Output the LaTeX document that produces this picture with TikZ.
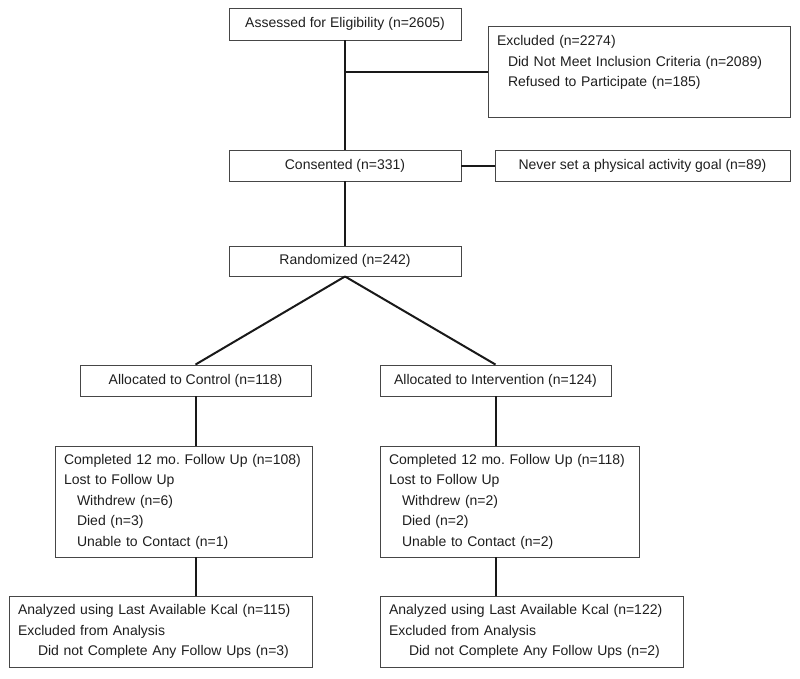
\documentclass[tikz,border=0pt]{standalone}
\usepackage{fontspec}
\setmainfont{Liberation Sans}
\usepackage{tikz}
\usetikzlibrary{positioning}
\definecolor{cfgray}{RGB}{70,70,70}
\definecolor{cftext}{RGB}{30,30,30}
\tikzstyle{box} = [rectangle, draw=cfgray, line width=0.9pt, minimum height=31pt, inner sep=0pt, text centered, text=cftext]
\tikzstyle{listbox} = [box, align=left, inner xsep=8pt]
\tikzstyle{link} = [line width=2pt, color=black!90]
\newcommand{\ind}[1]{\hspace*{#1pt}}
\frenchspacing

\begin{document}
\begin{tikzpicture}[x=1pt, y=-1pt, font=\fontsize{14}{20.5}\selectfont]
\useasboundingbox (0,0) rectangle (800,678);
% Enrolment
\node (assess) [box, minimum width=232pt, minimum height=32pt] at (345,24) {Assessed for Eligibility (n=2605)};
\node (excl) [listbox, text width=286pt, minimum height=91pt] at (639,71.5) {\ind{1}Excluded (n=2274)\\\ind{12}Did Not Meet Inclusion Criteria (n=2089)\\\ind{12}Refused to Participate (n=185)\\\mbox{}};
\node (consent) [box, below of=assess, node distance=141.5pt, minimum width=232pt] {Consented (n=331)};
\node (never) [box, right of=consent, node distance=297.5pt, minimum width=295pt] {Never set a physical activity goal (n=89)};
\node (random) [box, below of=consent, node distance=95.5pt, minimum width=232pt, minimum height=30pt] {Randomized (n=242)};

% Allocation
\node (allocC) [box, minimum width=231pt] at (195.5,380.5) {Allocated to Control (n=118)};
\node (allocI) [box, right of=allocC, node distance=300pt, minimum width=231pt] {Allocated to Intervention (n=124)};

% Follow up
\node (complC) [listbox, text width=241pt, minimum height=111pt] at (183.5,501.5) {\ind{1}Completed 12 mo. Follow Up (n=108)\\\ind{1}Lost to Follow Up\\\ind{14}Withdrew (n=6)\\\ind{14}Died (n=3)\\\ind{14}Unable to Contact (n=1)};
\node (complI) [listbox, right of=complC, node distance=326pt, text width=243pt, minimum height=111pt] {\ind{1}Completed 12 mo. Follow Up (n=118)\\\ind{1}Lost to Follow Up\\\ind{14}Withdrew (n=2)\\\ind{14}Died (n=2)\\\ind{14}Unable to Contact (n=2)};

% Analysis
\node (analC) [listbox, text width=287pt, minimum height=71pt] at (160.5,631.5) {\ind{1}Analyzed using Last Available Kcal (n=115)\\\ind{1}Excluded from Analysis\\\ind{21}Did not Complete Any Follow Ups (n=3)};
\node (analI) [listbox, right of=analC, node distance=371pt, text width=287pt, minimum height=71pt] {\ind{1}Analyzed using Last Available Kcal (n=122)\\\ind{1}Excluded from Analysis\\\ind{21}Did not Complete Any Follow Ups (n=2)};

% Connections
\draw[link] (assess) -- (consent);
\draw[link] (excl.west) -- (assess.south |- excl.west);
\draw[link] (consent) -- (never);
\draw[link] (consent) -- (random);
\draw[link] (random.south) -- (allocC.north);
\draw[link] (random.south) -- (allocI.north);
\draw[link] (allocC.south) -- (allocC.south |- complC.north);
\draw[link] (allocI.south) -- (allocI.south |- complI.north);
\draw[link] (allocC.south |- complC.south) -- (allocC.south |- analC.north);
\draw[link] (allocI.south |- complI.south) -- (allocI.south |- analI.north);
\end{tikzpicture}
\end{document}
